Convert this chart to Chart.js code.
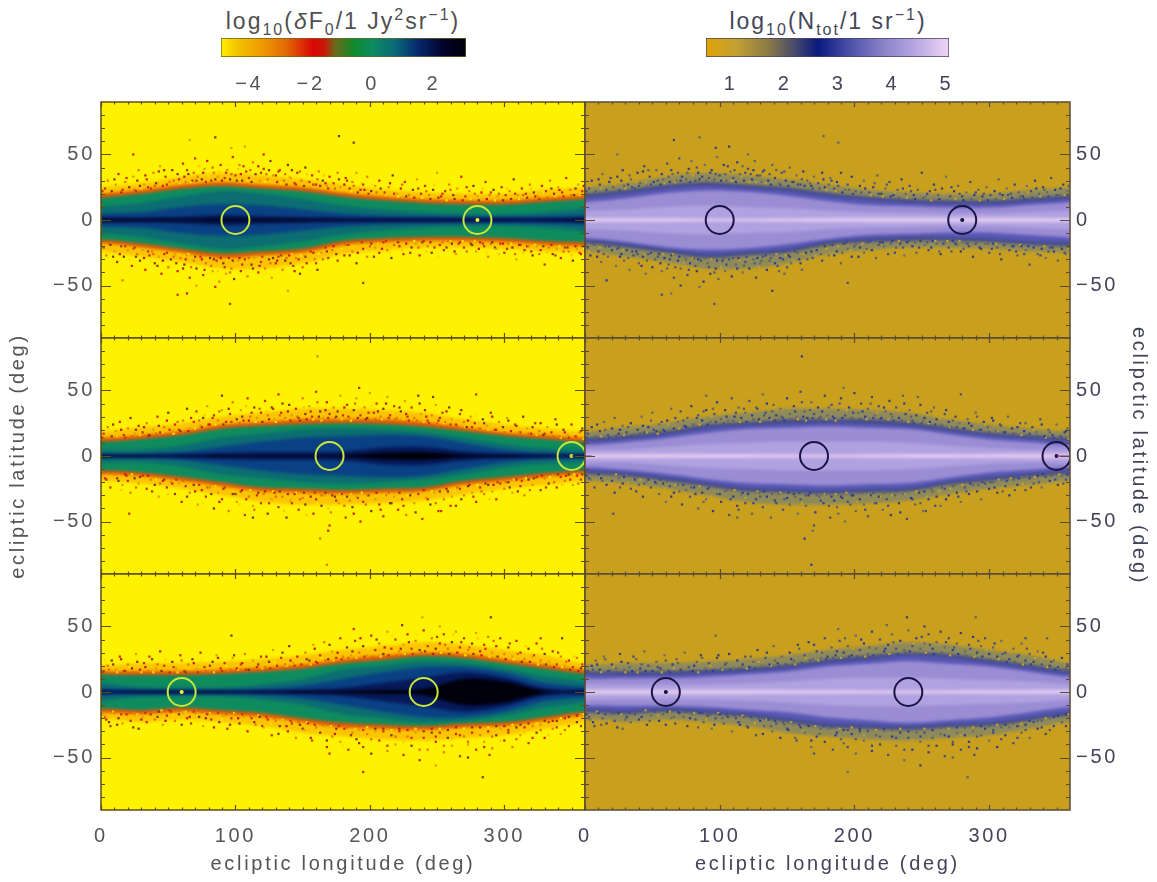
<!DOCTYPE html>
<html>
<head>
<meta charset="utf-8">
<title>ecliptic maps</title>
<script src="https://cdn.jsdelivr.net/npm/chart.js@4/dist/chart.umd.js"></script>
<style>
  body { margin: 0; background: #fff; width: 1157px; height: 882px; overflow: hidden; position: relative; }
  canvas { position: absolute; }
  .cbtitle { position: absolute; top: 8px; font: 23px "Liberation Sans", sans-serif; letter-spacing: 2px; white-space: nowrap; transform: translateX(-50%); }
  .cbtitle sub, .cbtitle sup { font-size: 16px; line-height: 0; }
</style>
</head>
<body>
<div class="cbtitle" style="left:343px;color:#505050">log<sub>10</sub>(<i>δ</i>F<sub>0</sub>/1 Jy<sup>2</sup>sr<sup>−1</sup>)</div>
<div class="cbtitle" style="left:828px;color:#46465a">log<sub>10</sub>(N<sub>tot</sub>/1 sr<sup>−1</sup>)</div>
<canvas id="barFlux" width="300" height="70" style="left:200px;top:30px"></canvas>
<canvas id="barCount" width="300" height="70" style="left:680px;top:30px"></canvas>
<canvas id="topLeft" width="587" height="240" style="left:0;top:100px"></canvas>
<canvas id="topRight" width="597" height="240" style="left:560px;top:100px"></canvas>
<canvas id="midLeft" width="587" height="300" style="left:0;top:306px"></canvas>
<canvas id="midRight" width="597" height="300" style="left:560px;top:306px"></canvas>
<canvas id="botLeft" width="587" height="310" style="left:0;top:572px"></canvas>
<canvas id="botRight" width="597" height="310" style="left:560px;top:572px"></canvas>
<script>
// axis ticks
const lonTicks = [0, 100, 200, 300];
const latTicks = [-50, 0, 50];
const lonMinor = [10,20,30,40,50,60,70,80,90,110,120,130,140,150,160,170,180,190,210,220,230,240,250,260,270,280,290,310,320,330,340,350];
const latMinor = [-80,-70,-60,-40,-30,-20,-10,10,20,30,40,60,70,80];

// colour bars
const fluxTicks = [-4, -2, 0, 2];
const fluxStops = [-4.92, -4.4, -3.6, -2.8, -1.9, -1.55, -1.2, -0.6, 0, 0.7, 1.5, 2.3, 3.06];
const fluxColors = ['#ffee00','#f4c400','#ee9a00','#e26a06','#d80606','#c81808','#6c6a18','#108a2c','#0c8c60','#0a6c78','#07286e','#02042c','#000008'];
const countTicks = [1, 2, 3, 4, 5];
const countStops = [0.54, 1.1, 1.7, 2.2, 2.62, 3.2, 3.8, 4.4, 5.05];
const countColors = ['#e0a408','#c2a030','#8a7a48','#45486a','#0a1880','#4a50a8','#8880c8','#b4a6e0','#f0d4f6'];

// sample longitudes of the band contours
const lonGrid = [0,30,60,90,120,150,180,210,240,270,300,330,360];

// top row contours (deg from the ecliptic)
const topOutUp = [25,28,33,36,34,31,27,23,21,20,20,23,25];
const topInUp = [20,23,27,29,27,25,21,18,16,15,15,17,19];
const topEdgeUp = [17,20,24,26,24,22,18,15,13,12,12,14,16];
const topOutLow = [24,28,32,37,37,33,26,23,21,21,22,24,25];
const topInLow = [18,21,25,29,27,25,19,17,16,16,17,19,20];
const topEdgeLow = [15,18,22,25.5,24,22,16,14,13,13,14,16,17];
const topTeal = [10,13,18,22,20,16,11,8,6,5,4.5,6,9];
const topBlue = [5,6,10,12,11,8,5,3.5,3,2.5,2.5,3,4];
const topNavy = [2,2,2.6,4,3,2.2,1.8,1.5,1.3,1.3,1.3,1.3,1.8];
const topBlack = [0.6,0.6,0.6,1,0.7,0.5,0.4,0.3,0.3,0.3,0.3,0.3,0.5];
const topLav = [13.5,16.5,20.5,22.5,21.5,18.5,14.5,11.5,10.5,9.5,9.5,11.5,13.5];
const topLight = [7,8,10,11,10,9,7,6,5.5,5,5,6,7];
const topLine = [1.5,1.5,1.5,1.2,1.1,1.4,1.6,1.7,1.7,1.7,1.7,1.7,1.5];

// middle row contours
const midOutUp = [19,22,25,30,33,36,36,35,33,28,24,21,19];
const midInUp = [14,16,19,24,26,28,28,28,26,22,18,16,14];
const midEdgeUp = [11,13,16,21,23,24.5,25,24.5,22.5,19,15.5,13,11];
const midOutLow = [19,21,25,30,35,37,37,36,34,29,25,22,19];
const midInLow = [14,15.5,19,23,27,28,29,28,27,22,19,16,14];
const midEdgeLow = [11,12.5,16,20,24,25,26,25,24,19,16,13,11];
const midTeal = [5,5,8,14,17,20,21,20,18,14,9,6,5];
const midBlue = [1.5,1.5,3,7,11,14,15,16,15,10,5,2.5,1.5];
const midNavy = [1,1,1.3,2.2,3,3,3.5,6.5,7,3.5,1.8,1.1,1];
const midBlack = [0.3,0.3,0.3,0.5,0.6,0.6,0.8,2.5,3,1,0.5,0.3,0.3];
const midLav = [8.5,10.5,13.5,17.5,20.5,21.5,22.5,21.5,20.5,16.5,12.5,10.5,8.5];
const midLight = [5,5,7,9,10,11,11,11,10,8,6,5,5];
const midLine = [1.7,1.7,1.7,1.6,1.5,1.4,1.2,1.4,1.5,1.5,1.6,1.7,1.7];

// bottom row contours
const botOutUp = [21,22,22,23,25,28,32,35,38,36,32,28,22];
const botInUp = [16,16,16,17,18.5,21,25,28,30,29,25,21,17];
const botEdgeUp = [13.5,13,13,14,15.5,18,22,24.5,27.5,26,22,18,14];
const botOutLow = [21,23,21,23,26,31,34,36,37,35,33,28,23];
const botInLow = [16,17,15,17,19,23,27,28,29,27,26,22,18];
const botEdgeLow = [13,14,12,14,16,20,23.5,25,26,24,23,19,15];
const botTeal = [7,4,3.5,3.5,6,10,17,20,23,22,18,12,8];
const botBlue = [3,1.8,1.5,1.5,2.5,5,10,15,19,19,15,7,4];
const botNavy = [1.2,1,1,1,1.2,1.8,3.2,7,11,15,11,3,1.5];
const botBlack = [0.3,0.3,0.3,0.3,0.3,0.5,0.8,1.5,2.5,10,8,1,0.3];
const botLav = [10.5,10.5,10.5,11.5,13.5,15.5,19.5,21.5,23.5,21.5,19.5,15.5,11.5];
const botLight = [6,5.5,5.5,6,6.5,8,10,11,11,10,9,8,6];
const botLine = [1.7,1.7,1.7,1.7,1.7,1.6,1.5,1.4,1.3,1.4,1.5,1.6,1.7];

// marked positions
const topRings = [100, 280], topDot = [280], topLead = [];
const midRings = [170, 350], midDot = [350], midLead = [[0, 0], [5, 0], [180, null], [350, 0], [360, 0]];
const botRings = [60, 240], botDot = [60], botLead = [];

// isolated pixels: lon, lat, lon, lat ...
const topDots = [
3,24,5,30,8,22,11,27,13,35,16,23,18,29,21,25,24,33,24,50,26,22,28,38,29,26,32,27,34,31,37,24,39,36,41,28,44,41,46,26,48,33,51,29,53,38,56,27,58,31,
61,43,63,29,65,35,66,61,68,30,70,47,72,33,75,31,77,39,79,45,82,30,84,36,85,63,87,33,89,42,92,32,94,38,96,31,97,55,98,48,100,34,103,42,105,30,107,56,108,37,110,32,113,44,115,35,118,30,
121,50,121,39,124,31,126,45,128,34,131,29,133,38,136,30,139,42,141,32,144,28,146,36,149,30,152,40,154,29,157,34,160,27,162,37,165,30,168,26,170,33,173,28,176,36,177,64,178,25,
182,32,185,24,187,29,188,59,190,36,193,23,195,27,198,33,201,22,204,26,207,30,211,21,214,25,217,34,220,20,223,24,226,29,229,19,232,23,235,31,238,20,
241,26,244,19,247,23,250,36,253,18,256,22,259,27,262,19,265,24,268,33,271,18,274,22,277,26,280,18,283,21,286,29,289,19,292,23,295,18,298,25,
301,19,304,22,307,31,310,19,313,24,316,20,319,27,322,21,325,18,328,26,331,22,334,30,337,20,340,25,343,21,346,32,349,23,352,19,355,27,358,22,
2,-21,4,-27,7,-19,10,-24,12,-32,15,-20,16,-46,17,-28,20,-23,23,-35,25,-21,27,-26,29,-31,31,-23,33,-38,36,-27,38,-24,40,-33,43,-28,45,-41,47,-26,50,-36,52,-30,55,-26,57,-39,57,-57,59,-29,
62,-34,64,-27,64,-56,66,-44,69,-31,71,-37,71,-50,74,-28,76,-42,78,-33,81,-29,83,-39,85,-51,86,-31,88,-47,91,-33,93,-41,95,-29,96,-64,97,-37,99,-45,102,-31,104,-39,107,-30,109,-43,112,-34,114,-29,117,-40,119,-32,
122,-37,125,-30,127,-44,130,-33,132,-28,135,-38,137,-31,139,-54,140,-27,143,-35,145,-29,148,-41,151,-27,153,-33,156,-24,159,-30,161,-38,164,-25,167,-21,169,-29,172,-23,175,-26,178,-20,
181,-27,184,-19,187,-24,190,-33,192,-18,195,-22,195,-48,198,-28,201,-18,204,-21,207,-25,210,-17,213,-23,216,-29,219,-17,222,-20,225,-26,228,-16,231,-21,234,-18,237,-27,
240,-16,243,-20,246,-25,249,-16,252,-19,255,-23,258,-16,261,-18,264,-26,267,-17,270,-21,273,-16,276,-19,279,-24,282,-17,285,-20,288,-28,291,-17,294,-22,297,-18,
300,-25,303,-18,306,-21,309,-30,312,-19,315,-23,318,-20,321,-27,324,-20,327,-23,330,-34,333,-21,336,-26,339,-22,342,-29,345,-21,348,-24,351,-31,354,-22,357,-26,359,-20
];
const midDots = [
2,17,5,22,8,15,11,19,14,26,17,16,20,21,22,29,25,17,28,23,31,18,34,25,36,16,39,20,42,30,44,18,47,22,50,33,53,19,55,24,58,20,
61,27,64,36,66,21,69,26,71,34,74,23,76,29,79,38,81,24,84,31,87,27,90,46,90,35,93,26,96,32,98,41,101,28,104,35,106,27,109,44,111,30,114,37,116,29,119,33,
122,42,124,31,127,37,129,28,132,47,134,33,137,29,140,39,142,31,145,36,147,29,150,44,152,32,155,38,157,30,160,49,161,76,163,34,165,29,168,41,170,32,173,37,175,30,178,46,
180,31,183,39,185,29,188,35,190,44,192,52,193,31,196,37,198,29,200,48,203,33,205,40,208,30,210,36,213,45,215,31,218,38,220,29,223,34,226,42,228,30,231,37,233,29,236,46,238,32,
241,35,243,27,246,31,247,45,249,39,251,27,254,33,256,26,259,37,261,28,264,24,267,32,270,26,272,22,275,30,278,25,279,47,281,21,284,28,287,23,290,33,293,20,296,26,299,22,
302,29,305,19,308,24,311,18,314,30,317,21,320,17,323,25,326,19,329,16,332,22,335,18,338,28,341,15,344,20,347,16,350,24,353,15,356,18,358,21,
1,-15,4,-18,7,-24,10,-14,13,-19,16,-22,19,-15,21,-44,22,-28,25,-17,28,-21,31,-15,34,-25,37,-18,40,-22,43,-31,46,-19,49,-24,52,-20,55,-29,58,-21,
60,-35,63,-23,66,-28,69,-22,72,-37,75,-26,78,-31,81,-24,84,-40,87,-28,90,-33,92,-24,95,-42,98,-29,101,-35,104,-27,107,-45,110,-31,113,-47,113,-38,116,-30,119,-36,
121,-29,124,-44,127,-33,129,-28,132,-39,135,-31,138,-47,141,-34,144,-29,147,-41,150,-32,152,-37,155,-29,158,-44,160,-33,163,-63,164,-38,166,-30,169,-57,170,-53,171,-43,174,-31,177,-36,179,-29,
182,-47,185,-34,187,-39,190,-31,193,-50,195,-35,198,-30,201,-42,204,-33,207,-37,210,-46,212,-30,215,-36,218,-31,221,-41,224,-33,227,-45,230,-30,233,-36,236,-29,239,-48,
242,-32,245,-37,248,-28,251,-42,253,-42,255,-33,258,-27,261,-31,264,-38,267,-25,270,-30,273,-23,276,-28,279,-35,282,-24,285,-29,288,-22,291,-27,294,-33,297,-21,
300,-25,303,-20,306,-28,309,-18,312,-23,315,-30,318,-18,321,-22,324,-16,327,-26,330,-17,333,-21,336,-15,339,-24,342,-16,345,-19,348,-14,351,-22,354,-15,357,-18,
168,-83
];
const botDots = [
2,16,5,20,8,24,11,17,14,27,17,16,20,21,23,18,26,29,29,17,32,22,35,16,38,25,41,18,44,31,47,20,50,16,53,23,56,18,59,28,
62,16,65,21,68,25,71,17,74,30,77,19,80,16,83,23,86,28,89,18,92,22,95,16,97,43,98,26,101,18,104,21,107,29,110,17,113,24,116,19,119,27,
122,19,125,23,128,32,131,20,134,26,137,21,140,35,143,22,146,27,149,21,152,30,155,24,158,36,160,23,163,28,166,38,169,25,172,31,175,26,178,41,
180,27,183,34,186,28,188,48,189,39,192,30,195,35,198,28,201,43,204,32,207,37,210,29,213,46,216,33,219,40,222,31,224,51,225,36,228,44,231,33,234,39,237,32,239,57,
240,47,243,35,246,41,249,33,252,50,252,37,255,44,258,33,261,38,264,46,267,34,270,41,273,32,276,37,279,45,282,31,285,36,288,42,290,57,291,30,294,35,297,41,
300,29,303,34,306,27,309,39,312,30,315,25,318,33,321,27,324,37,327,41,327,24,330,29,333,23,336,31,339,21,342,27,343,41,345,20,348,24,351,19,354,26,357,18,
1,-17,4,-21,7,-26,10,-16,13,-20,16,-24,19,-17,22,-22,25,-16,28,-28,31,-19,34,-23,37,-17,40,-21,43,-15,46,-25,49,-18,52,-15,55,-22,58,-17,
61,-15,64,-20,67,-24,70,-16,73,-19,76,-26,79,-17,82,-21,85,-16,88,-23,91,-18,94,-28,97,-20,100,-17,103,-24,106,-19,109,-30,112,-20,115,-25,118,-19,
121,-27,124,-21,127,-33,130,-22,133,-26,136,-21,139,-30,142,-24,145,-35,148,-25,151,-29,154,-24,157,-37,160,-27,163,-31,166,-26,168,-42,170,-47,172,-34,175,-28,178,-38,
181,-28,184,-44,187,-31,190,-36,192,-29,195,-61,195,-42,198,-32,201,-47,204,-30,207,-37,210,-30,213,-45,216,-33,219,-40,222,-30,225,-48,228,-34,231,-41,234,-31,237,-52,
240,-35,243,-44,246,-31,249,-56,249,-38,252,-31,255,-46,258,-35,261,-41,264,-32,267,-49,270,-34,273,-50,273,-40,276,-31,279,-44,282,-33,284,-65,285,-38,288,-30,289,-48,291,-43,294,-33,297,-28,
300,-37,303,-29,306,-42,309,-27,312,-33,315,-27,318,-39,321,-26,324,-31,327,-25,330,-35,333,-23,336,-28,339,-22,342,-32,345,-20,348,-26,351,-18,354,-23,357,-17
];

// denser pixels just outside the band edge
const topFringe = [
1,22,4,26,7,20,10,31,12,24,15,21,19,32,22,27,25,23,27,30,30,24,33,34,35,25,38,29,40,26,43,37,45,29,47,38,49,27,52,34,54,30,57,35,59,28,62,33,64,38,67,29,69,36,71,30,73,41,76,36,78,29,80,34,83,40,85,31,88,37,90,30,93,36,95,42,97,35,101,30,102,39,104,35,106,41,109,30,111,38,112,29,116,33,117,41,119,36,
122,29,123,35,125,38,127,29,130,34,132,37,134,28,137,35,138,27,140,33,142,38,145,27,147,32,148,37,151,26,153,35,155,29,158,27,159,36,161,31,163,26,166,34,167,28,169,24,171,30,174,24,177,31,179,23,181,27,183,30,186,22,188,26,191,21,194,28,196,23,199,20,202,27,205,21,208,24,212,19,215,28,218,20,221,18,224,27,227,18,230,21,233,17,236,24,239,17,
242,22,245,16,248,27,251,17,254,20,257,15,260,23,263,16,266,20,269,15,272,25,275,16,278,20,281,15,284,24,287,16,290,21,293,15,296,20,299,15,302,24,305,16,308,20,311,16,314,19,317,17,320,24,323,18,326,16,329,21,332,17,335,24,338,18,341,23,344,18,347,25,350,19,353,24,356,19,359,26,
0,-19,3,-24,6,-18,9,-28,11,-21,14,-26,18,-20,21,-30,24,-22,26,-28,28,-23,32,-29,35,-24,37,-31,39,-26,42,-35,44,-27,46,-31,49,-25,51,-35,54,-28,56,-33,58,-26,61,-37,63,-30,65,-26,67,-36,70,-28,73,-33,75,-30,77,-38,80,-29,82,-35,84,-30,87,-39,89,-29,92,-36,94,-30,96,-40,98,-31,101,-36,103,-29,105,-34,108,-40,110,-29,113,-37,115,-31,118,-35,120,-28,
123,-41,126,-33,128,-29,129,-36,131,-31,134,-27,136,-37,138,-29,141,-33,142,-26,144,-39,147,-30,149,-27,150,-36,152,-28,155,-31,158,-25,160,-33,162,-26,165,-30,168,-24,171,-27,173,-20,176,-31,179,-22,182,-19,185,-27,188,-20,191,-25,194,-17,197,-23,200,-20,203,-28,206,-18,209,-22,212,-16,215,-25,218,-19,221,-17,224,-23,227,-18,230,-25,233,-16,236,-21,239,-17,
242,-24,245,-17,248,-21,251,-28,254,-17,257,-21,260,-16,263,-24,266,-18,269,-16,272,-24,275,-18,278,-16,281,-22,284,-18,287,-25,290,-18,293,-21,296,-26,299,-18,302,-22,305,-18,308,-26,311,-19,314,-25,317,-20,320,-24,323,-19,326,-26,329,-20,332,-25,335,-19,338,-27,341,-20,344,-24,347,-21,350,-27,353,-20,356,-25,359,-22
];
const midFringe = [
1,14,3,19,6,13,9,24,12,15,15,20,18,14,20,27,23,15,26,20,29,16,32,22,35,15,38,26,41,17,43,23,46,18,49,27,51,20,54,17,57,26,59,19,62,24,65,19,67,29,70,21,73,27,75,22,77,31,80,24,83,29,85,24,88,34,91,24,94,30,95,36,97,26,100,32,103,25,105,30,108,38,110,27,112,33,115,26,118,36,120,26,
123,34,125,28,128,36,130,26,133,31,135,40,138,28,139,34,141,27,143,41,146,30,148,27,151,37,153,28,156,34,158,28,161,41,162,30,164,27,167,35,169,29,171,42,174,29,176,34,179,28,181,37,184,30,186,27,189,40,191,29,194,35,197,28,199,33,201,38,204,28,206,34,209,28,212,40,214,29,217,33,219,28,222,37,225,28,227,32,229,27,232,35,235,27,237,40,
240,26,242,30,244,25,248,34,250,25,252,29,255,25,257,34,260,24,263,29,265,23,268,35,271,22,273,27,276,22,279,31,282,21,285,25,288,20,291,30,294,20,297,24,300,18,303,27,306,19,309,23,312,18,315,27,318,17,321,22,324,16,327,25,330,17,333,20,336,15,339,24,342,14,345,18,348,14,351,21,354,14,357,19,359,13,
0,-13,3,-17,6,-21,9,-13,12,-17,15,-26,18,-14,20,-19,23,-14,26,-24,29,-16,32,-20,35,-15,38,-27,41,-18,44,-21,47,-18,50,-29,53,-21,56,-18,59,-25,61,-19,64,-31,67,-22,70,-27,73,-22,76,-36,79,-24,82,-29,85,-23,88,-35,91,-25,94,-31,97,-23,100,-29,103,-37,105,-26,108,-33,111,-26,114,-41,117,-28,119,-32,
122,-27,125,-36,128,-27,130,-31,133,-27,136,-42,139,-29,142,-36,145,-28,148,-33,151,-28,153,-45,156,-31,159,-28,161,-36,164,-30,167,-28,169,-40,172,-30,175,-34,178,-29,181,-38,183,-31,186,-29,188,-44,191,-32,194,-28,197,-37,199,-30,202,-35,205,-28,208,-41,211,-30,214,-28,216,-36,219,-31,222,-28,225,-38,228,-30,231,-27,234,-43,237,-29,
240,-26,243,-33,246,-27,249,-36,252,-27,254,-31,257,-25,260,-38,263,-27,265,-24,268,-33,271,-25,274,-22,277,-31,280,-22,283,-27,286,-21,289,-33,292,-22,295,-20,298,-28,301,-20,304,-24,307,-18,310,-27,313,-19,316,-17,319,-26,322,-17,325,-21,328,-15,331,-24,334,-16,337,-20,340,-14,343,-22,346,-15,349,-18,352,-14,355,-21,358,-14
];
const botFringe = [
1,15,3,24,6,17,9,21,12,15,15,25,18,16,21,19,24,15,27,23,30,15,33,19,36,27,39,15,42,21,45,16,48,25,51,15,54,19,57,15,60,24,63,15,66,18,69,22,72,15,75,25,78,16,81,20,84,15,87,26,90,16,93,20,96,17,99,28,102,17,105,22,108,17,111,25,114,17,117,21,120,18,
123,27,126,18,129,23,132,18,135,30,138,20,141,24,144,20,147,31,150,20,153,25,156,21,159,33,161,22,164,26,167,24,170,36,173,24,176,30,179,25,182,37,184,26,187,31,190,26,193,41,196,27,199,33,202,27,205,40,208,27,211,34,214,28,217,43,220,28,223,33,226,29,229,38,232,29,235,44,238,30,
241,31,244,37,247,29,250,42,253,30,256,36,259,29,262,44,265,30,268,38,271,28,274,34,277,29,280,41,283,28,286,33,289,27,292,39,295,27,298,32,301,25,304,37,307,25,310,29,313,23,316,35,319,23,322,28,325,21,328,33,331,21,334,26,337,19,340,30,343,19,346,23,349,17,352,27,355,16,358,21,
0,-15,3,-19,6,-23,9,-15,12,-25,15,-17,18,-22,21,-16,24,-27,27,-17,30,-21,33,-16,36,-24,39,-15,42,-19,45,-14,48,-22,51,-14,54,-18,57,-14,60,-25,63,-15,66,-19,69,-15,72,-23,75,-15,78,-20,81,-16,84,-27,87,-16,90,-21,93,-17,96,-25,99,-16,102,-20,105,-17,108,-29,111,-18,114,-23,117,-18,120,-26,
123,-19,126,-24,129,-20,132,-32,135,-21,138,-26,141,-22,144,-32,147,-23,150,-28,153,-23,156,-35,159,-25,162,-30,165,-25,168,-37,171,-26,174,-32,177,-26,180,-41,183,-27,186,-33,189,-28,192,-39,195,-29,198,-27,201,-36,204,-28,207,-33,210,-28,213,-41,216,-29,219,-34,222,-28,225,-38,228,-29,231,-35,234,-28,237,-44,
240,-30,243,-37,246,-28,249,-34,252,-28,255,-41,258,-29,261,-36,264,-27,267,-33,270,-28,273,-38,276,-27,279,-33,282,-27,285,-42,288,-27,291,-34,294,-26,297,-37,300,-26,303,-31,306,-25,309,-36,312,-25,315,-31,318,-24,321,-35,324,-24,327,-29,330,-22,333,-33,336,-22,339,-27,342,-20,345,-29,348,-19,351,-24,354,-18,357,-26,359,-17
];

// dot colours per column
const fluxDotColors = ['#c23a00','#ee7a00','#7c3b08','#e0a000','#d9250a'];
const fluxFringeColors = ['#d03400','#ffe000','#e66a00','#8c3c06','#ffc800','#c81e06'];
const countDotColors = ['#49507e','#2f3f8f','#5f6468','#3c4468','#6a6c70'];
const countFringeColors = ['#3c4a90','#c9a01e','#50587a','#2f3f8f','#b8a040','#5f6468'];

function pts(lons, vals, sign) {
  // the sky wraps, so one neighbour sample on each side keeps the blur off the frame
  const n = lons.length;
  const out = [{x: lons[n - 2] - 360, y: sign * vals[n - 2]}];
  lons.forEach((x, i) => out.push({x: x, y: sign * vals[i]}));
  out.push({x: lons[1] + 360, y: sign * vals[1]});
  return out;
}

function band(up, low, color) {
  const line = {borderWidth: 0, pointRadius: 0, tension: 0.35};
  return [
    {...line, data: pts(lonGrid, up, 1), fill: '+1', backgroundColor: color},
    {...line, data: pts(lonGrid, low, -1), fill: false}
  ];
}

function dotData(flat) {
  const out = [];
  for (let i = 0; i < flat.length; i += 2) out.push({x: flat[i], y: flat[i + 1]});
  return out;
}

function dotSet(flat, colors) {
  const data = dotData(flat);
  return {data: data, showLine: false, pointStyle: 'rect', pointRadius: 1.6, pointBorderWidth: 0,
          pointBackgroundColor: data.map((d, i) => colors[i % colors.length])};
}

const framePlugin = {
  id: 'frame',
  beforeDraw(chart, args, opts) {
    const a = chart.chartArea, c = chart.ctx;
    c.letterSpacing = '2.7px';
    c.fillStyle = opts.bg;
    c.fillRect(a.left, a.top, a.right - a.left, a.bottom - a.top);
  },
  beforeDatasetsDraw(chart) { chart.ctx.filter = 'blur(1.6px)'; },
  beforeDatasetDraw(chart, args) { if (args.index <= 4) chart.ctx.filter = 'none'; },
  afterDatasetsDraw(chart, args, opts) {
    const a = chart.chartArea, c = chart.ctx, xs = chart.scales.x, ys = chart.scales.y;
    c.save();
    c.filter = 'none';
    c.strokeStyle = opts.ink;
    c.lineWidth = 1.2;
    c.beginPath();
    const hTick = (v, len) => {
      const y = Math.round(ys.getPixelForValue(v)) + 0.5;
      c.moveTo(a.left, y); c.lineTo(a.left + len, y);
      c.moveTo(a.right, y); c.lineTo(a.right - len, y);
    };
    const vTick = (v, len) => {
      const x = Math.round(xs.getPixelForValue(v)) + 0.5;
      c.moveTo(x, a.top); c.lineTo(x, a.top + len);
      c.moveTo(x, a.bottom); c.lineTo(x, a.bottom - len);
    };
    latTicks.forEach(v => hTick(v, 10));
    latMinor.forEach(v => hTick(v, 4));
    lonTicks.forEach(v => vTick(v, 5));
    lonMinor.forEach(v => vTick(v, 2.5));
    c.stroke();
    c.lineWidth = 1.5;
    c.strokeRect(a.left, a.top, a.right - a.left, a.bottom - a.top);
    c.restore();
  }
};

// the scales would otherwise reserve room for half a tick label around the plot
function noMargins(s) {
  s.paddingTop = 0; s.paddingBottom = 0; s.paddingLeft = 0; s.paddingRight = 0;
}

function panel(id, cfg) {
  const isRight = cfg.side === 'right';
  const ink = isRight ? '#5a4a38' : '#5e4c10';
  const text = isRight ? '#43435a' : '#555555';
  const pad = cfg.yTitle ? 32 : 2;
  const layers = cfg.layers.flatMap(l => band(l[0], l[1], l[2]));
  new Chart(document.getElementById(id), {
    type: 'line',
    data: {
      datasets: [
        {data: cfg.lead.map(p => ({x: p[0], y: p[1]})), spanGaps: false, pointRadius: 0, borderWidth: 1.2,
         borderColor: isRight ? '#8a2a80' : '#102050'},
        {data: cfg.dot.map(x => ({x: x, y: 0})), showLine: false, pointRadius: 2, borderWidth: 0,
         pointBackgroundColor: isRight ? '#14103a' : '#ffee30', pointBorderWidth: 0},
        {data: cfg.rings.map(x => ({x: x, y: 0})), showLine: false, pointRadius: 14,
         pointBackgroundColor: 'rgba(0,0,0,0)', pointBorderColor: isRight ? '#1a1444' : '#c6e838', pointBorderWidth: 2},
        dotSet(cfg.dots, isRight ? countDotColors : fluxDotColors),
        dotSet(cfg.fringe, isRight ? countFringeColors : fluxFringeColors)
      ].concat(layers)
    },
    options: {
      responsive: false,
      animation: false,
      events: [],
      layout: {autoPadding: false, padding: {top: pad, bottom: cfg.labels ? 0 : pad, left: isRight ? 25 : 0, right: isRight ? 0 : 2}},
      plugins: {legend: {display: false}, tooltip: {enabled: false}, frame: {bg: cfg.bg, ink: ink}},
      scales: {
        x: {
          type: 'linear', min: 0, max: 360,
          grid: {display: false, tickLength: 0}, border: {display: false},
          afterBuildTicks: s => { s.ticks = lonTicks.map(v => ({value: v})); },
          afterFit: s => { noMargins(s); s.height = cfg.labels ? 72 : 0; },
          ticks: {display: !!cfg.labels, autoSkip: false, maxRotation: 0, padding: 14, color: text,
                  font: {family: 'Liberation Sans', size: 20}},
          title: {display: !!cfg.labels, text: 'ecliptic longitude (deg)', color: text, padding: {top: 0, bottom: 6},
                  font: {family: 'Liberation Sans', size: 20}}
        },
        y: {
          position: cfg.side, min: -90, max: 90,
          grid: {display: false, tickLength: 0}, border: {display: false},
          afterBuildTicks: s => { s.ticks = latTicks.map(v => ({value: v})); },
          afterFit: s => { noMargins(s); s.width = isRight ? 87 : 101; },
          ticks: {autoSkip: false, padding: 6, color: text, font: {family: 'Liberation Sans', size: 20},
                  callback: v => String(v).replace('-', '−')},
          title: {display: !!cfg.yTitle, text: cfg.yTitle, color: text, padding: {top: 6, bottom: 6},
                  font: {family: 'Liberation Sans', size: 20}}
        }
      }
    },
    plugins: [framePlugin]
  });
}

function fluxLayers(outUp, outLow, inUp, inLow, edgeUp, edgeLow, teal, blue, navy, black) {
  // first entry ends up on top
  return [[black, black, '#00000c'], [navy, navy, '#06195a'], [blue, blue, '#0a4184'], [teal, teal, '#0c6d72'],
          [edgeUp, edgeLow, '#0e8c5e'], [inUp, inLow, '#e05a08'], [outUp, outLow, '#fbc400']];
}
function countLayers(outUp, outLow, inUp, inLow, edgeUp, edgeLow, lav, light, line) {
  return [[line, line, '#e0c8f0'], [light, light, '#b0a2e0'], [lav, lav, '#9a8dd4'],
          [edgeUp, edgeLow, '#5a58b6'], [inUp, inLow, '#454d8e'], [outUp, outLow, '#8f8a5a']];
}

const yellow = '#fff200', gold = '#c9a01e';
panel('topLeft', {side: 'left', bg: yellow, rings: topRings, dot: topDot, lead: topLead, dots: topDots, fringe: topFringe,
  layers: fluxLayers(topOutUp, topOutLow, topInUp, topInLow, topEdgeUp, topEdgeLow, topTeal, topBlue, topNavy, topBlack)});
panel('midLeft', {side: 'left', bg: yellow, rings: midRings, dot: midDot, lead: midLead, dots: midDots, fringe: midFringe, yTitle: 'ecliptic latitude (deg)',
  layers: fluxLayers(midOutUp, midOutLow, midInUp, midInLow, midEdgeUp, midEdgeLow, midTeal, midBlue, midNavy, midBlack)});
panel('botLeft', {side: 'left', bg: yellow, rings: botRings, dot: botDot, lead: botLead, dots: botDots, fringe: botFringe, labels: true,
  layers: fluxLayers(botOutUp, botOutLow, botInUp, botInLow, botEdgeUp, botEdgeLow, botTeal, botBlue, botNavy, botBlack)});
panel('topRight', {side: 'right', bg: gold, rings: topRings, dot: topDot, lead: topLead, dots: topDots, fringe: topFringe,
  layers: countLayers(topOutUp, topOutLow, topInUp, topInLow, topEdgeUp, topEdgeLow, topLav, topLight, topLine)});
panel('midRight', {side: 'right', bg: gold, rings: midRings, dot: midDot, lead: midLead, dots: midDots, fringe: midFringe, yTitle: 'eclipctic latitude (deg)',
  layers: countLayers(midOutUp, midOutLow, midInUp, midInLow, midEdgeUp, midEdgeLow, midLav, midLight, midLine)});
panel('botRight', {side: 'right', bg: gold, rings: botRings, dot: botDot, lead: botLead, dots: botDots, fringe: botFringe, labels: true,
  layers: countLayers(botOutUp, botOutLow, botInUp, botInLow, botEdgeUp, botEdgeLow, botLav, botLight, botLine)});

function colorBar(id, stops, colors, ticks, pad, text, edge) {
  const lo = stops[0], hi = stops[stops.length - 1];
  new Chart(document.getElementById(id), {
    type: 'bar',
    data: {
      labels: [''],
      datasets: [{
        data: [[lo, hi]],
        barPercentage: 1, categoryPercentage: 1,
        borderWidth: 1, borderSkipped: false, borderColor: edge,
        backgroundColor: c => {
          const a = c.chart.chartArea;
          if (!a) return colors[0];
          const g = c.chart.ctx.createLinearGradient(a.left, 0, a.right, 0);
          stops.forEach((v, i) => g.addColorStop((v - lo) / (hi - lo), colors[i]));
          return g;
        }
      }]
    },
    options: {
      indexAxis: 'y', responsive: false, animation: false, events: [],
      layout: {autoPadding: false, padding: {top: 8, bottom: 0, left: pad[0], right: pad[1]}},
      plugins: {legend: {display: false}, tooltip: {enabled: false}},
      scales: {
        y: {display: false},
        x: {
          type: 'linear', min: lo, max: hi,
          grid: {display: false}, border: {display: false},
          afterBuildTicks: s => { s.ticks = ticks.map(v => ({value: v})); },
          afterFit: s => { noMargins(s); s.height = 43; },
          ticks: {autoSkip: false, maxRotation: 0, padding: 7, color: text, font: {family: 'Liberation Sans', size: 20},
                  callback: v => String(v).replace('-', '−')}
        }
      }
    },
    plugins: [{id: 'spacing', beforeDraw: ch => { ch.ctx.letterSpacing = '2.7px'; }}]
  });
}
colorBar('barFlux', fluxStops, fluxColors, fluxTicks, [21, 34], '#555555', '#6a6420');
colorBar('barCount', countStops, countColors, countTicks, [26, 31], '#43435a', '#4a4460');
</script>
</body>
</html>
